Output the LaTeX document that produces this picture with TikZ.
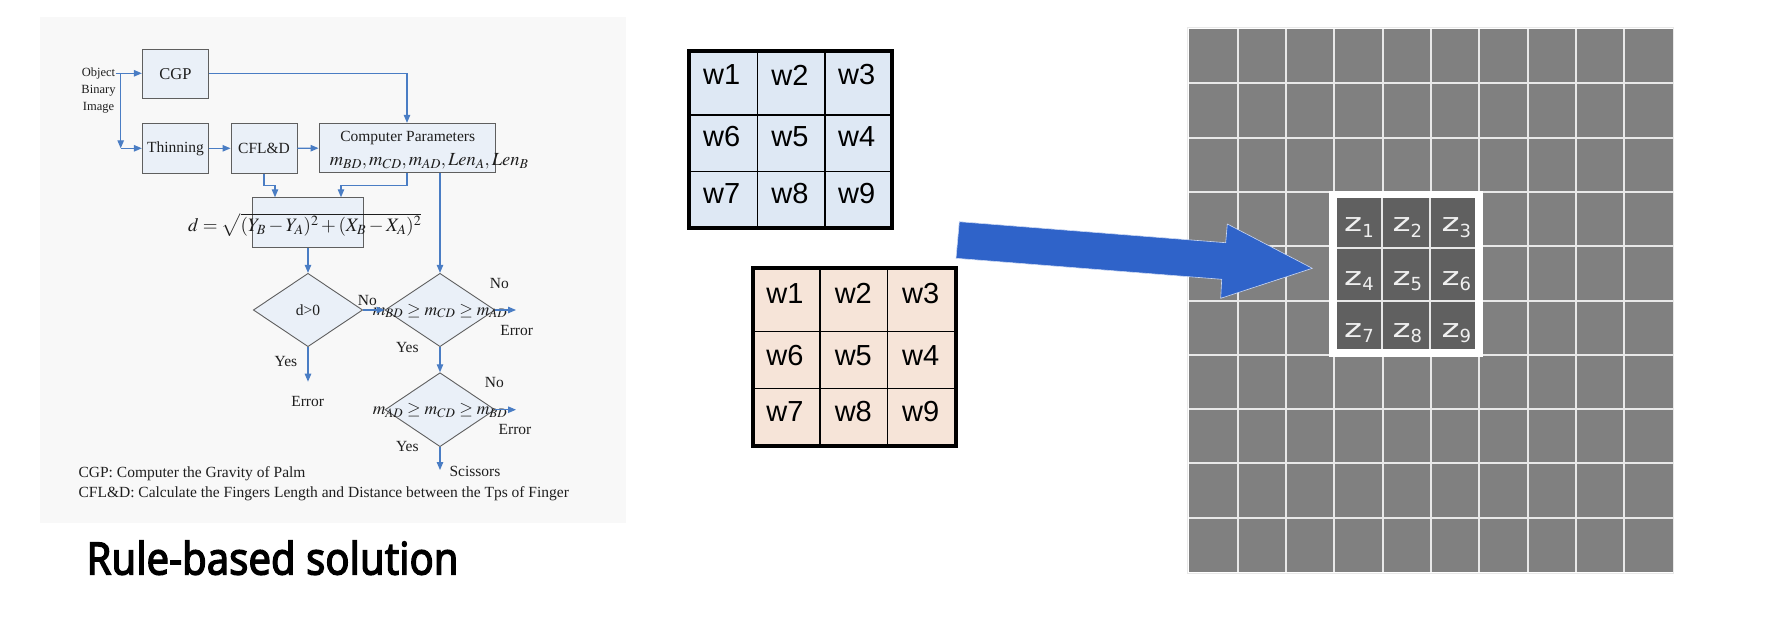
\documentclass[tikz,border=0pt]{standalone}
\usepackage{mathptmx}
\usepackage{graphicx}
\usepackage{fontspec}
\setmainfont{Liberation Serif}
\newfontfamily\arialf{Liberation Sans}
\newfontfamily\titlef{Noto Sans}[AutoFakeBold=3]
\newfontfamily\zedf{DejaVu Sans}
\usetikzlibrary{shapes.geometric,arrows.meta,calc}
\definecolor{fbfill}{RGB}{234,240,248}
\definecolor{fbord}{RGB}{95,95,95}
\definecolor{flblue}{RGB}{74,125,196}
\definecolor{ftext}{RGB}{30,30,30}
\definecolor{panelbg}{RGB}{248,248,248}
\definecolor{wblue}{RGB}{222,232,244}
\definecolor{worange}{RGB}{246,228,216}
\definecolor{cellgray}{RGB}{128,128,128}
\definecolor{darkcell}{RGB}{96,96,96}
\definecolor{glinec}{RGB}{232,232,232}
\definecolor{arrowblue}{RGB}{47,99,201}
\newcommand\flowfont{\fontsize{15.5}{17}\selectfont}
\newcommand\gridfont{\arialf\fontsize{29}{30}\selectfont}
\newcommand\zz[1]{{\zedf\color{white!94!black}\scalebox{1.35}[1]{\fontsize{25.5}{26}\selectfont z}\raisebox{-5.6pt}{\fontsize{18}{18}\selectfont #1}}}
\tikzset{
  fb/.style={draw=fbord, fill=fbfill, line width=0.9pt, inner sep=0pt, font=\flowfont, text=ftext},
  fl/.style={draw=flblue, line width=1.1pt},
  fa/.style={fl, -{Triangle[length=8pt,width=6.5pt]}},
  dia/.style={fb, diamond},
  lab/.style={font=\flowfont, text=ftext, inner sep=0pt},
  capt/.style={lab, font=\fontsize{15.5}{17}\selectfont, anchor=base west},
  wtxt/.style={font=\gridfont, inner sep=0pt},
  gline/.style={draw=glinec, line width=2pt},
}
\begin{document}
\begin{tikzpicture}[x=1pt,y=-1pt]
\useasboundingbox (0,0) rectangle (1766,616);
% ---------- left panel: flowchart ----------
\fill[panelbg] (40,17) rectangle (626,523);
\node[fb, minimum width=66.4pt, minimum height=49.3pt] (cgp) at (175.5,73.7) {\fontsize{16.5}{17}\selectfont CGP};
\node[fb, minimum width=66.4pt, minimum height=50pt] (thin) at (175.5,148.3) {Thinning};
\node[fb, minimum width=66pt, minimum height=50pt] (cfl) at (264,148.3) {CFL\&D};
\node[fb, minimum width=176pt, minimum height=49.4pt] (cp) at (407,148) {};
\node[lab] (cpt1) at (407.7,138.3) {Computer Parameters};
\node[lab, font=\fontsize{18.5}{19}\selectfont] (cpt2) at (429.2,161) {$m_{BD},m_{CD},m_{AD},\mathit{Len}_A,\mathit{Len}_B$};
\node[fb, minimum width=110.6pt, minimum height=49.6pt] (fbx) at (308,222.5) {};
\node[lab, font=\fontsize{19}{20}\selectfont] (form) at (304.7,225) {$d=\sqrt{(Y_B-Y_A)^2+(X_B-X_A)^2}$};
\node[dia, minimum width=109.4pt, minimum height=73.4pt] (d1) at (308,310) {};
\node[lab] (d1t) at (308,310) {d\textgreater0};
\node[dia, minimum width=110pt, minimum height=73.4pt] (d2) at (440,310) {};
\node[lab, font=\fontsize{17.5}{18}\selectfont] (d2t) at (440,311) {$m_{BD}\geq m_{CD}\geq m_{AD}$};
\node[dia, minimum width=110pt, minimum height=74pt] (d3) at (440,409.7) {};
\node[lab, font=\fontsize{17.5}{18}\selectfont] (d3t) at (440,410.7) {$m_{AD}\geq m_{CD}\geq m_{BD}$};
\node[lab, font=\fontsize{12.5}{17.2}\selectfont, align=center] (obj) at (98.5,90.5) {Object\\Binary\\Image};
\coordinate (objr) at (115.7,73.3);
\coordinate (j1) at (120.7,73.3);
\coordinate (j2) at (120.7,148.3);
\coordinate (e1) at (308,381.7);
\coordinate (e2) at (516,310);
\coordinate (e3) at (516,409.7);
\coordinate (sc) at (440,470);
\draw[fa] (objr) -- (objr -| cgp.west);
\draw[fa] (j1) -- (j2);
\draw[fa] (j2) -- (thin.west);
\draw[fa] (cgp.east) -| (cp.north);
\draw[fa] (thin) -- (cfl);
\draw[fa] (cfl) -- (cp);
\draw[fa] (cfl.south) -- ++(0,11.7) -| ($(fbx.north)+(-33,0)$);
\draw[fa] (cp.south) -- ++(0,12.3) -| ($(fbx.north)+(33,0)$);
\draw[fa] (cp.south -| d2.north) -- (d2.north);
\draw[fa] (fbx.south) -- (d1.north);
\draw[fa] (d1.east) -- (d2.west);
\draw[fa] (d2.east) -- (e2);
\draw[fa] (d2.south) -- (d3.north);
\draw[fa] (d3.east) -- (e3);
\draw[fa] (d3.south) -- (sc);
\draw[fa] (d1.south) -- (e1);
\node[lab] (no1) at (367.3,300) {No};
\node[lab] (no2) at (499.3,283.3) {No};
\node[lab] (er2) at (516.7,330) {Error};
\node[lab] (ye2) at (407.3,347.3) {Yes};
\node[lab] (ye1) at (286,361.7) {Yes};
\node[lab] (er1) at (307.7,401.7) {Error};
\node[lab] (no3) at (494.3,382.7) {No};
\node[lab] (er3) at (515,429.3) {Error};
\node[lab] (ye3) at (407.3,446) {Yes};
\node[lab] (scis) at (475,471.7) {Scissors};
\node[capt] (cap1) at (78.4,477) {CGP: Computer the Gravity of Palm};
\node[capt] (cap2) at (78.4,497.5) {CFL\&D: Calculate the Fingers Length and Distance between the Tps of Finger};
\node[inner sep=0pt, anchor=base west] (title) at (86.3,574.5) {\resizebox{372pt}{34pt}{\titlef\bfseries Rule-based solution}};
% ---------- middle: weight grids ----------
\fill[wblue] (689.3,51.3) rectangle (892.3,228.3);
\draw[line width=1.5pt] (757.3,51.3) -- (757.3,228.3) (825,51.3) -- (825,228.3)
  (689.3,115) -- (892.3,115) (689.3,171.7) -- (892.3,171.7);
\draw[line width=4pt] (689.3,51.3) rectangle (892.3,228.3);
\node[wtxt] (b1) at (721.7,75) {w1};
\node[wtxt] (b2) at (790,75) {w2};
\node[wtxt] (b3) at (856.7,75) {w3};
\node[wtxt] (b6) at (721.7,136.7) {w6};
\node[wtxt] (b5) at (790,136.7) {w5};
\node[wtxt] (b4) at (856.7,136.7) {w4};
\node[wtxt] (b7) at (721.7,193.3) {w7};
\node[wtxt] (b8) at (790,193.3) {w8};
\node[wtxt] (b9) at (856.7,193.3) {w9};
\fill[worange] (752.7,268.3) rectangle (956,446);
\draw[line width=1.5pt] (820,268.3) -- (820,446) (887.7,268.3) -- (887.7,446)
  (752.7,331.7) -- (956,331.7) (752.7,388.3) -- (956,388.3);
\draw[line width=4pt] (752.7,268.3) rectangle (956,446);
\node[wtxt] (o1) at (785,293.3) {w1};
\node[wtxt] (o2) at (853.3,293.3) {w2};
\node[wtxt] (o3) at (920.7,293.3) {w3};
\node[wtxt] (o6) at (785,356) {w6};
\node[wtxt] (o5) at (853.3,356) {w5};
\node[wtxt] (o4) at (920.7,356) {w4};
\node[wtxt] (o7) at (785,411.7) {w7};
\node[wtxt] (o8) at (853.3,411.7) {w8};
\node[wtxt] (o9) at (920.7,411.7) {w9};
% ---------- right: image grid ----------
\fill[cellgray] (1189.3,29) rectangle (1672.5,572);
\foreach \i in {1,...,9} {
  \draw[gline] ({1189.3+\i*48.32},29) -- ++(0,543);
  \draw[gline] (1189.3,{29+\i*54.3}) -- ++(483.2,0);
}
\draw[draw=glinec, line width=1pt] (1187.8,27.5) rectangle (1673.5,573);
\fill[white] (1329,191) rectangle (1483,357);
\fill[darkcell] (1337.3,198.3) rectangle (1475,349);
\draw[gline] (1381.7,198.3) -- (1381.7,349) (1430,198.3) -- (1430,349)
  (1337.3,247.7) -- (1475,247.7) (1337.3,301) -- (1475,301);
\node[inner sep=0pt, anchor=base west] (z1) at (1344,231.7) {\zz{1}};
\node[inner sep=0pt, anchor=base west] (z2) at (1392.3,231.7) {\zz{2}};
\node[inner sep=0pt, anchor=base west] (z3) at (1441.3,231.7) {\zz{3}};
\node[inner sep=0pt, anchor=base west] (z4) at (1344,285) {\zz{4}};
\node[inner sep=0pt, anchor=base west] (z5) at (1392.3,285) {\zz{5}};
\node[inner sep=0pt, anchor=base west] (z6) at (1441.3,285) {\zz{6}};
\node[inner sep=0pt, anchor=base west] (z7) at (1344,337.3) {\zz{7}};
\node[inner sep=0pt, anchor=base west] (z8) at (1392.3,337.3) {\zz{8}};
\node[inner sep=0pt, anchor=base west] (z9) at (1441.3,337.3) {\zz{9}};
% ---------- big blue arrow ----------
\fill[arrowblue, draw=white!75!arrowblue, line width=0.6pt] (959.3,221.7) -- (1225.7,242.7) -- (1227.3,224) -- (1312.3,268.3) -- (1220.7,298.3) -- (1221.7,279.3) -- (956,258.3) -- cycle;
\end{tikzpicture}
\end{document}
